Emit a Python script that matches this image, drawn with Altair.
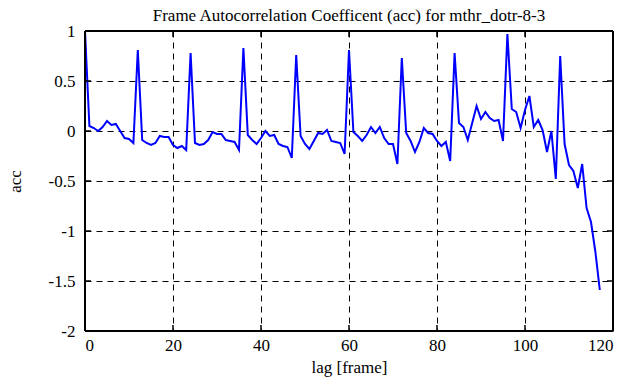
import altair as alt
import pandas as pd

acc = [1.0, 0.05, 0.03, 0.0, 0.04, 0.10, 0.06, 0.07, 0.0, -0.07, -0.08, -0.12,
       0.81, -0.09, -0.12, -0.14, -0.12, -0.05, -0.06, -0.06, -0.14, -0.17, -0.15, -0.19,
       0.78, -0.12, -0.14, -0.13, -0.09, -0.01, -0.03, -0.03, -0.09, -0.10, -0.11, -0.19,
       0.83, -0.04, -0.09, -0.13, -0.07, 0.0, -0.05, -0.04, -0.13, -0.15, -0.16, -0.27,
       0.76, -0.05, -0.13, -0.18, -0.10, -0.02, -0.03, 0.01, -0.10, -0.11, -0.12, -0.23,
       0.81, -0.01, -0.05, -0.10, -0.04, 0.04, -0.02, 0.04, -0.07, -0.13, -0.13, -0.33,
       0.73, -0.02, -0.10, -0.21, -0.11, 0.03, -0.02, -0.03, -0.10, -0.15, -0.11, -0.30,
       0.78, 0.08, 0.04, -0.09, 0.08, 0.25, 0.12, 0.19, 0.13, 0.10, 0.11, -0.10,
       0.97, 0.22, 0.19, 0.03, 0.21, 0.35, 0.04, 0.11, 0.01, -0.21, 0.0, -0.48,
       0.75, -0.13, -0.34, -0.40, -0.57, -0.33, -0.77, -0.91, -1.21, -1.59]
lags = list(range(len(acc)))

x_ticks = [0, 20, 40, 60, 80, 100, 120]
y_ticks = [1, 0.5, 0, -0.5, -1, -1.5, -2]
x_domain = [0, 120]
y_domain = [-2, 1]

W, H = 528, 300
FONT = "Liberation Serif"

df = pd.DataFrame({"lag": lags, "acc": acc})
xt = pd.DataFrame({"v": x_ticks})
yt = pd.DataFrame({"v": y_ticks})

xscale = alt.Scale(domain=x_domain, nice=False, zero=False)
yscale = alt.Scale(domain=y_domain, nice=False, zero=False)

line = alt.Chart(df).mark_line(color="#0000ff", strokeWidth=2).encode(
    x=alt.X("lag:Q", scale=xscale, title="lag [frame]",
            axis=alt.Axis(values=x_ticks, grid=True, gridDash=[6, 5], gridColor="black",
                          gridOpacity=1, gridWidth=1, ticks=False, domain=False,
                          labelPadding=6, labelFontSize=17, titleFontSize=17,
                          labelFont=FONT, titleFont=FONT, labelColor="black",
                          titleColor="black", titleFontWeight="normal", titlePadding=6)),
    y=alt.Y("acc:Q", scale=yscale, title="acc",
            axis=alt.Axis(values=y_ticks, grid=True, gridDash=[6, 5], gridColor="black",
                          gridOpacity=1, gridWidth=1, ticks=False, domain=False,
                          labelExpr="datum.value", labelPadding=10, labelFontSize=17,
                          titleFontSize=17, labelFont=FONT, titleFont=FONT,
                          labelColor="black", titleColor="black",
                          titleFontWeight="normal", titlePadding=24)),
)

frame_top = alt.Chart(xt).mark_rule(color="black", strokeWidth=2).encode(
    x=alt.value(0), x2=alt.value(W), y=alt.value(0))
frame_bottom = alt.Chart(xt).mark_rule(color="black", strokeWidth=2).encode(
    x=alt.value(0), x2=alt.value(W), y=alt.value(H))
frame_left = alt.Chart(yt).mark_rule(color="black", strokeWidth=2).encode(
    y=alt.value(0), y2=alt.value(H), x=alt.value(0))
frame_right = alt.Chart(yt).mark_rule(color="black", strokeWidth=2).encode(
    y=alt.value(0), y2=alt.value(H), x=alt.value(W))

tick_bottom = alt.Chart(xt).mark_rule(color="black", strokeWidth=1.5).encode(
    x=alt.X("v:Q", scale=xscale), y=alt.value(H), y2=alt.value(H - 6))
tick_top = alt.Chart(xt).mark_rule(color="black", strokeWidth=1.5).encode(
    x=alt.X("v:Q", scale=xscale), y=alt.value(0), y2=alt.value(6))
tick_left = alt.Chart(yt).mark_rule(color="black", strokeWidth=1.5).encode(
    y=alt.Y("v:Q", scale=yscale), x=alt.value(0), x2=alt.value(6))
tick_right = alt.Chart(yt).mark_rule(color="black", strokeWidth=1.5).encode(
    y=alt.Y("v:Q", scale=yscale), x=alt.value(W), x2=alt.value(W - 6))

chart = alt.layer(line, frame_top, frame_bottom, frame_left, frame_right,
                  tick_bottom, tick_top, tick_left, tick_right).properties(
    width=W, height=H,
    title=alt.Title("Frame Autocorrelation Coefficent (acc) for mthr_dotr-8-3",
                    font=FONT, fontSize=17, fontWeight="normal", color="black",
                    anchor="middle", offset=-3),
    autosize=alt.AutoSizeParams(type="none"),
    padding={"left": 77, "top": 23, "right": 12, "bottom": 46},
).configure_view(stroke=None).configure(background="white")

chart.save("out.html", embed_options={"renderer": "svg", "actions": False})
